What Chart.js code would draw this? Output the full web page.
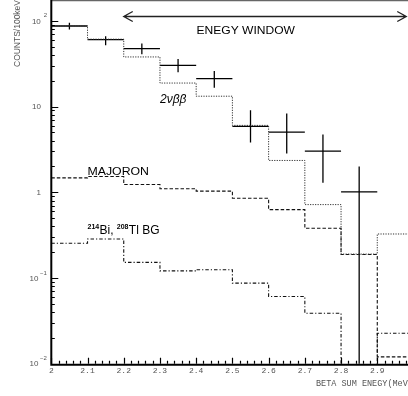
<!DOCTYPE html>
<html><head><meta charset="utf-8">
<script src="https://cdn.jsdelivr.net/npm/chart.js@4"></script>
<style>html,body{margin:0;padding:0;overflow:hidden;background:#fff;width:408px;height:396px}canvas{display:block}</style>
</head><body>
<canvas id="c" width="420" height="396" style="width:420px;height:396px"></canvas>
<script>
// ---- data ----
const binEdges    = [2.0, 2.1, 2.2, 2.3, 2.4, 2.5, 2.6, 2.7, 2.8, 2.9, 3.0];
const dataCenters = [2.05, 2.15, 2.25, 2.35, 2.45, 2.55, 2.65, 2.75, 2.85];
const dataCounts  = [87, 60.5, 47.5, 30.3, 21.2, 5.86, 5.03, 3.02, 1.01];
const dataHigh    = [94.7, 66.2, 54.5, 35.9, 26.0, 9.04, 8.3, 4.73, 2.0];
const dataLow     = [79.3, 52.0, 40.8, 25.1, 16.6, 3.81, 2.84, 1.29, 0.0001];
const twoNuBB     = [87.4, 61.1, 37.9, 18.8, 13.2, 6.03, 2.35, 0.718, 0.190, 0.326];
const majoron     = [1.47, 1.53, 1.23, 1.10, 1.03, 0.851, 0.628, 0.380, 0.188, 0.0120];
const biTlBG      = [0.254, 0.285, 0.152, 0.121, 0.125, 0.087, 0.0608, 0.0388, 0.00001, 0.0227];
const xTickValues = [2.0, 2.1, 2.2, 2.3, 2.4, 2.5, 2.6, 2.7, 2.8, 2.9, 3.0];
const xTickLabels = ["2", "2.1", "2.2", "2.3", "2.4", "2.5", "2.6", "2.7", "2.8", "2.9", "3"];
const yTickValues = [0.01, 0.1, 1, 10, 100];
const yTickBase   = ["10", "10", "1", "10", "10"];
const yTickExp    = ["-2", "-1", "", "", "2"];
const windowRange = [2.2, 2.98];
const windowLevel = 113;

function histo(vals){
  return binEdges.map((x,i)=>({x:x, y:vals[Math.min(i, vals.length-1)]}));
}
function hBars(){
  const out=[];
  dataCounts.forEach((v,i)=>{out.push({x:binEdges[i],y:v},{x:binEdges[i+1],y:v},{x:binEdges[i+1],y:null});});
  return out;
}
function vBars(){
  const out=[];
  dataCenters.forEach((c,i)=>{out.push({x:c,y:dataLow[i]},{x:c,y:dataHigh[i]},{x:c,y:null});});
  return out;
}

function fitText(ctx, txt, x, y, w, font){
  ctx.font = font;
  const m = ctx.measureText(txt).width;
  ctx.save();
  ctx.translate(x, y);
  ctx.scale(w/m, 1);
  ctx.textAlign='left';
  ctx.fillText(txt, 0, 0);
  ctx.restore();
}

const decor = {
  id:'decor',
  afterDraw(chart){
    const ctx = chart.ctx, a = chart.chartArea;
    const xs = chart.scales.x, ys = chart.scales.y;
    ctx.save();
    // frame top
    ctx.strokeStyle='#666'; ctx.lineWidth=1.2;
    ctx.beginPath(); ctx.moveTo(a.left, a.top+0.6); ctx.lineTo(a.right, a.top+0.6); ctx.stroke();
    // axes
    ctx.strokeStyle='#000'; ctx.lineWidth=2;
    ctx.beginPath(); ctx.moveTo(a.left, a.top); ctx.lineTo(a.left, a.bottom+1); ctx.lineTo(a.right, a.bottom+1); ctx.stroke();
    ctx.lineWidth=1.2;
    // x ticks
    ctx.beginPath();
    for(let k=0;k<=50;k++){
      const v = 2 + k*0.02;
      const px = Math.round(xs.getPixelForValue(v))+0.5;
      const len = (k%5===0)?6:3;
      ctx.moveTo(px, a.bottom); ctx.lineTo(px, a.bottom-len);
    }
    // y ticks
    for(let d=-2; d<=2; d++){
      for(let m=1;m<=9;m++){
        const v = m*Math.pow(10,d);
        if(v>ys.max) continue;
        const py = Math.round(ys.getPixelForValue(v))+0.5;
        const len = (m===1)?7:3.5;
        ctx.moveTo(a.left, py); ctx.lineTo(a.left+len, py);
      }
    }
    ctx.stroke();
    // x tick labels
    ctx.fillStyle='#555';
    ctx.font='8px "Liberation Mono", monospace';
    ctx.textAlign='center'; ctx.textBaseline='middle';
    xTickValues.forEach((v,i)=>{ ctx.fillText(xTickLabels[i], xs.getPixelForValue(v), 371); });
    // y tick labels
    yTickValues.forEach((v,i)=>{
      const py = ys.getPixelForValue(v);
      ctx.font='8px "Liberation Sans", Arial, sans-serif';
      ctx.textBaseline='middle';
      if(!yTickExp[i]){
        ctx.textAlign='right'; ctx.fillText(yTickBase[i], 41, py+0.5);
      } else {
        const neg = yTickExp[i].startsWith('-');
        const right = neg ? 38.5 : 40.8;
        ctx.textAlign='right'; ctx.fillText(yTickBase[i], right, py+0.5);
        ctx.font='6px "Liberation Sans", Arial, sans-serif';
        ctx.textAlign='left'; ctx.fillText(yTickExp[i].replace('-','\u2212'), right+(neg?1.5:3), py-5);
      }
    });
    // axis titles
    ctx.save(); ctx.translate(20, 67); ctx.rotate(-Math.PI/2);
    ctx.textBaseline='alphabetic';
    fitText(ctx, 'COUNTS/100keV', 0, 0, 67, '8.5px "Liberation Sans", Arial, sans-serif');
    ctx.restore();
    ctx.font='8.5px "Liberation Mono", monospace';
    ctx.textAlign='left'; ctx.textBaseline='middle';
    ctx.fillText('BETA SUM ENEGY(MeV)', 316, 384);
    // energy window arrow
    const x1 = xs.getPixelForValue(windowRange[0]), x2 = xs.getPixelForValue(windowRange[1]);
    const yw = Math.round(ys.getPixelForValue(windowLevel))+0.5;
    ctx.strokeStyle='#222'; ctx.lineWidth=1.3;
    ctx.beginPath();
    ctx.moveTo(x1, yw); ctx.lineTo(x2, yw);
    ctx.moveTo(x1+9, yw-5); ctx.lineTo(x1, yw); ctx.lineTo(x1+9, yw+5);
    ctx.moveTo(x2-9, yw-5); ctx.lineTo(x2, yw); ctx.lineTo(x2-9, yw+5);
    ctx.stroke();
    ctx.fillStyle='#000'; ctx.textBaseline='alphabetic';
    fitText(ctx, 'ENEGY WINDOW', 196.5, 33.5, 98.5, '10.5px "Liberation Sans", Arial, sans-serif');
    // labels
    fitText(ctx, 'MAJORON', 87.5, 174.5, 61.5, '11px "Liberation Sans", Arial, sans-serif');
    ctx.font='italic 12px "Liberation Sans", Arial, sans-serif';
    ctx.textAlign='left';
    ctx.fillText('2\u03bd\u03b2\u03b2', 160, 102.5);
    // 214Bi, 208Tl BG
    let x = 87.5; const base = 234;
    ctx.font='bold 7px "Liberation Sans", Arial, sans-serif';
    ctx.fillText('214', x, base-5.5); x += ctx.measureText('214').width+0.3;
    ctx.font='12px "Liberation Sans", Arial, sans-serif';
    ctx.fillText('Bi, ', x, base); x += ctx.measureText('Bi, ').width;
    ctx.font='bold 7px "Liberation Sans", Arial, sans-serif';
    ctx.fillText('208', x, base-5.5); x += ctx.measureText('208').width+0.3;
    ctx.font='12px "Liberation Sans", Arial, sans-serif';
    ctx.fillText('Tl BG', x, base);
    ctx.restore();
  }
};

new Chart(document.getElementById('c'), {
  type:'line',
  data:{ datasets:[
    {label:'2vbb', data:histo(twoNuBB), stepped:'before', borderColor:'#333', borderWidth:1, borderDash:[1.2,1.3], pointRadius:0, fill:false},
    {label:'majoron', data:histo(majoron), stepped:'before', borderColor:'#111', borderWidth:1.1, borderDash:[3.5,2], pointRadius:0, fill:false},
    {label:'bg', data:histo(biTlBG), stepped:'before', borderColor:'#111', borderWidth:1.1, borderDash:[3.5,2,1.2,2], pointRadius:0, fill:false},
    {label:'dataH', data:hBars(), borderColor:'#000', borderWidth:1.3, pointRadius:0, spanGaps:false, fill:false},
    {label:'dataV', data:vBars(), borderColor:'#000', borderWidth:1.3, pointRadius:0, spanGaps:false, fill:false}
  ]},
  options:{
    responsive:false, animation:false, devicePixelRatio:1,
    layout:{padding:{left:51.3, top:0, right:6.5, bottom:32.3}},
    parsing:true,
    scales:{
      x:{type:'linear', min:2, max:3, display:false},
      y:{type:'logarithmic', min:0.01, max:175, display:false}
    },
    plugins:{legend:{display:false}, tooltip:{enabled:false}}
  },
  plugins:[decor]
});
</script>
</body></html>
